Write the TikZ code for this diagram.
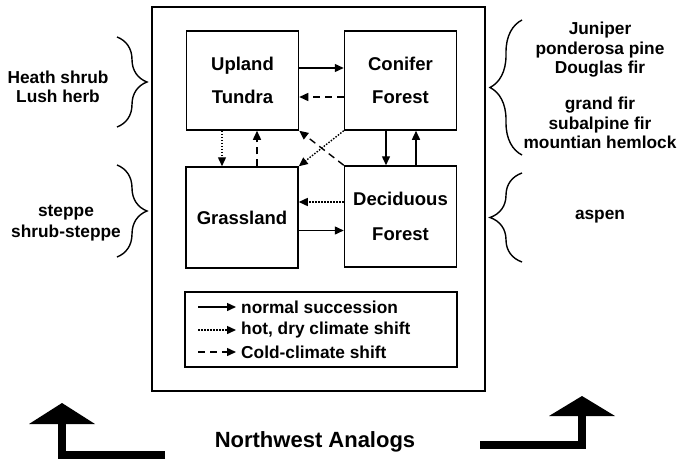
\documentclass[tikz,border=0pt]{standalone}
\usepackage{fontspec}
\setmainfont{Liberation Sans}
\usetikzlibrary{arrows.meta,decorations.pathreplacing}
\begin{document}
\begin{tikzpicture}[x=1pt,y=-1pt,
  stagebox/.style={draw, line width=1.5pt, inner sep=0pt, align=center,
    font=\bfseries\fontsize{18.5}{33}\selectfont,
    minimum width=112pt, minimum height=99pt},
  link/.style={line width=1.4pt, -{Triangle[length=9pt,width=8pt]}},
  normal/.style={link},
  hotdry/.style={link, dash pattern=on 1.5pt off 1.5pt},
  cold/.style={link, dash pattern=on 7pt off 5pt},
  sidelabel/.style={font=\bfseries\fontsize{17.3}{19.5}\selectfont, align=center, inner sep=0pt},
  keytext/.style={font=\bfseries\fontsize{17.3}{20}\selectfont, inner sep=0pt, anchor=west},
  bracel/.style={decorate, decoration={brace, amplitude=30pt}, line width=1.4pt},
  bracer/.style={decorate, decoration={brace, mirror, amplitude=32pt}, line width=1.4pt},
  bigarrow/.style={line width=7.5pt, line join=miter}]
\useasboundingbox (0,0) rectangle (679,463);

% outer frame
\node[draw, line width=2.2pt, minimum width=333pt, minimum height=384pt] (frame) at (318.5,199) {};

% vegetation stages
\node[stagebox] (upl) at (242.5,80.5) {Upland\\Tundra};
\node[stagebox] (con) at (400.5,80.5) {Conifer\\Forest};
\node[stagebox, minimum height=101pt] (gra) at (242,217.5) {Grassland};
\node[stagebox, minimum height=101pt, font=\bfseries\fontsize{18.5}{35}\selectfont] (dec) at (400.5,216.5) {Deciduous\\Forest};

% transitions between stages
\draw[normal] ([yshift=12.5pt]upl.east) -- ([yshift=12.5pt]upl.east -| con.west);
\draw[cold] ([yshift=-16.5pt]con.west) -- ([yshift=-16.5pt]con.west -| upl.east);
\draw[hotdry] ([xshift=-20.5pt]upl.south) -- ([xshift=-20.5pt]upl.south |- gra.north);
\draw[cold] ([xshift=15pt]gra.north) -- ([xshift=15pt]gra.north |- upl.south);
\draw[normal] ([xshift=-14.5pt]con.south) -- ([xshift=-14.5pt]con.south |- dec.north);
\draw[normal] ([xshift=15.5pt]dec.north) -- ([xshift=15.5pt]dec.north |- con.south);
\draw[hotdry] ([yshift=14.5pt]dec.west) -- ([yshift=14.5pt]dec.west -| gra.east);
\draw[normal] ([yshift=-13pt]gra.east) -- ([yshift=-13pt]gra.east -| dec.west);
\draw[hotdry] (con.south west) -- (gra.north east);
\draw[cold] (dec.north west) -- (upl.south east);

% key
\node[draw, line width=1.5pt, minimum width=272pt, minimum height=75pt] (key) at (321,329.5) {};
\coordinate (k1a) at (198,307); \coordinate (k1b) at (236,307);
\coordinate (k2a) at (198,330); \coordinate (k2b) at (236,330);
\coordinate (k3a) at (198,352); \coordinate (k3b) at (236,352);
\draw[normal] (k1a) -- (k1b);
\draw[hotdry] (k2a) -- (k2b);
\draw[cold] (k3a) -- (k3b);
\node[keytext] (t1) at (241,307) {normal succession};
\node[keytext] (t2) at (241,330) {hot, dry climate shift};
\node[keytext] (t3) at (241,352) {Cold-climate shift};

% braces and plant communities
\draw[bracel] (117,37) -- (117,127);
\draw[bracel] (117,165) -- (117,257);
\draw[bracer] (522,20) -- (522,155);
\draw[bracer] (522,173) -- (522,262);
\node[sidelabel] (heath) at (58,87) {Heath shrub\\Lush herb};
\node[sidelabel, font=\bfseries\fontsize{17.3}{21}\selectfont] (steppe) at (66,223) {steppe\\shrub-steppe};
\node[sidelabel] (pines) at (600,50) {Juniper\\ponderosa pine\\Douglas fir};
\node[sidelabel] (firs) at (600,123) {grand fir\\subalpine fir\\mountian hemlock};
\node[sidelabel] (aspen) at (600,217) {aspen};

% title with bent arrows
\node[font=\bfseries\fontsize{22}{26}\selectfont] (title) at (315,442) {Northwest Analogs};
\draw[bigarrow] (165,455) -- (62,455) -- (62,421);
\fill (62,403) -- (95,424) -- (29,424) -- cycle;
\draw[bigarrow] (480,445) -- (582,445) -- (582,414);
\fill (582,396) -- (615,416) -- (549,416) -- cycle;
\end{tikzpicture}
\end{document}
